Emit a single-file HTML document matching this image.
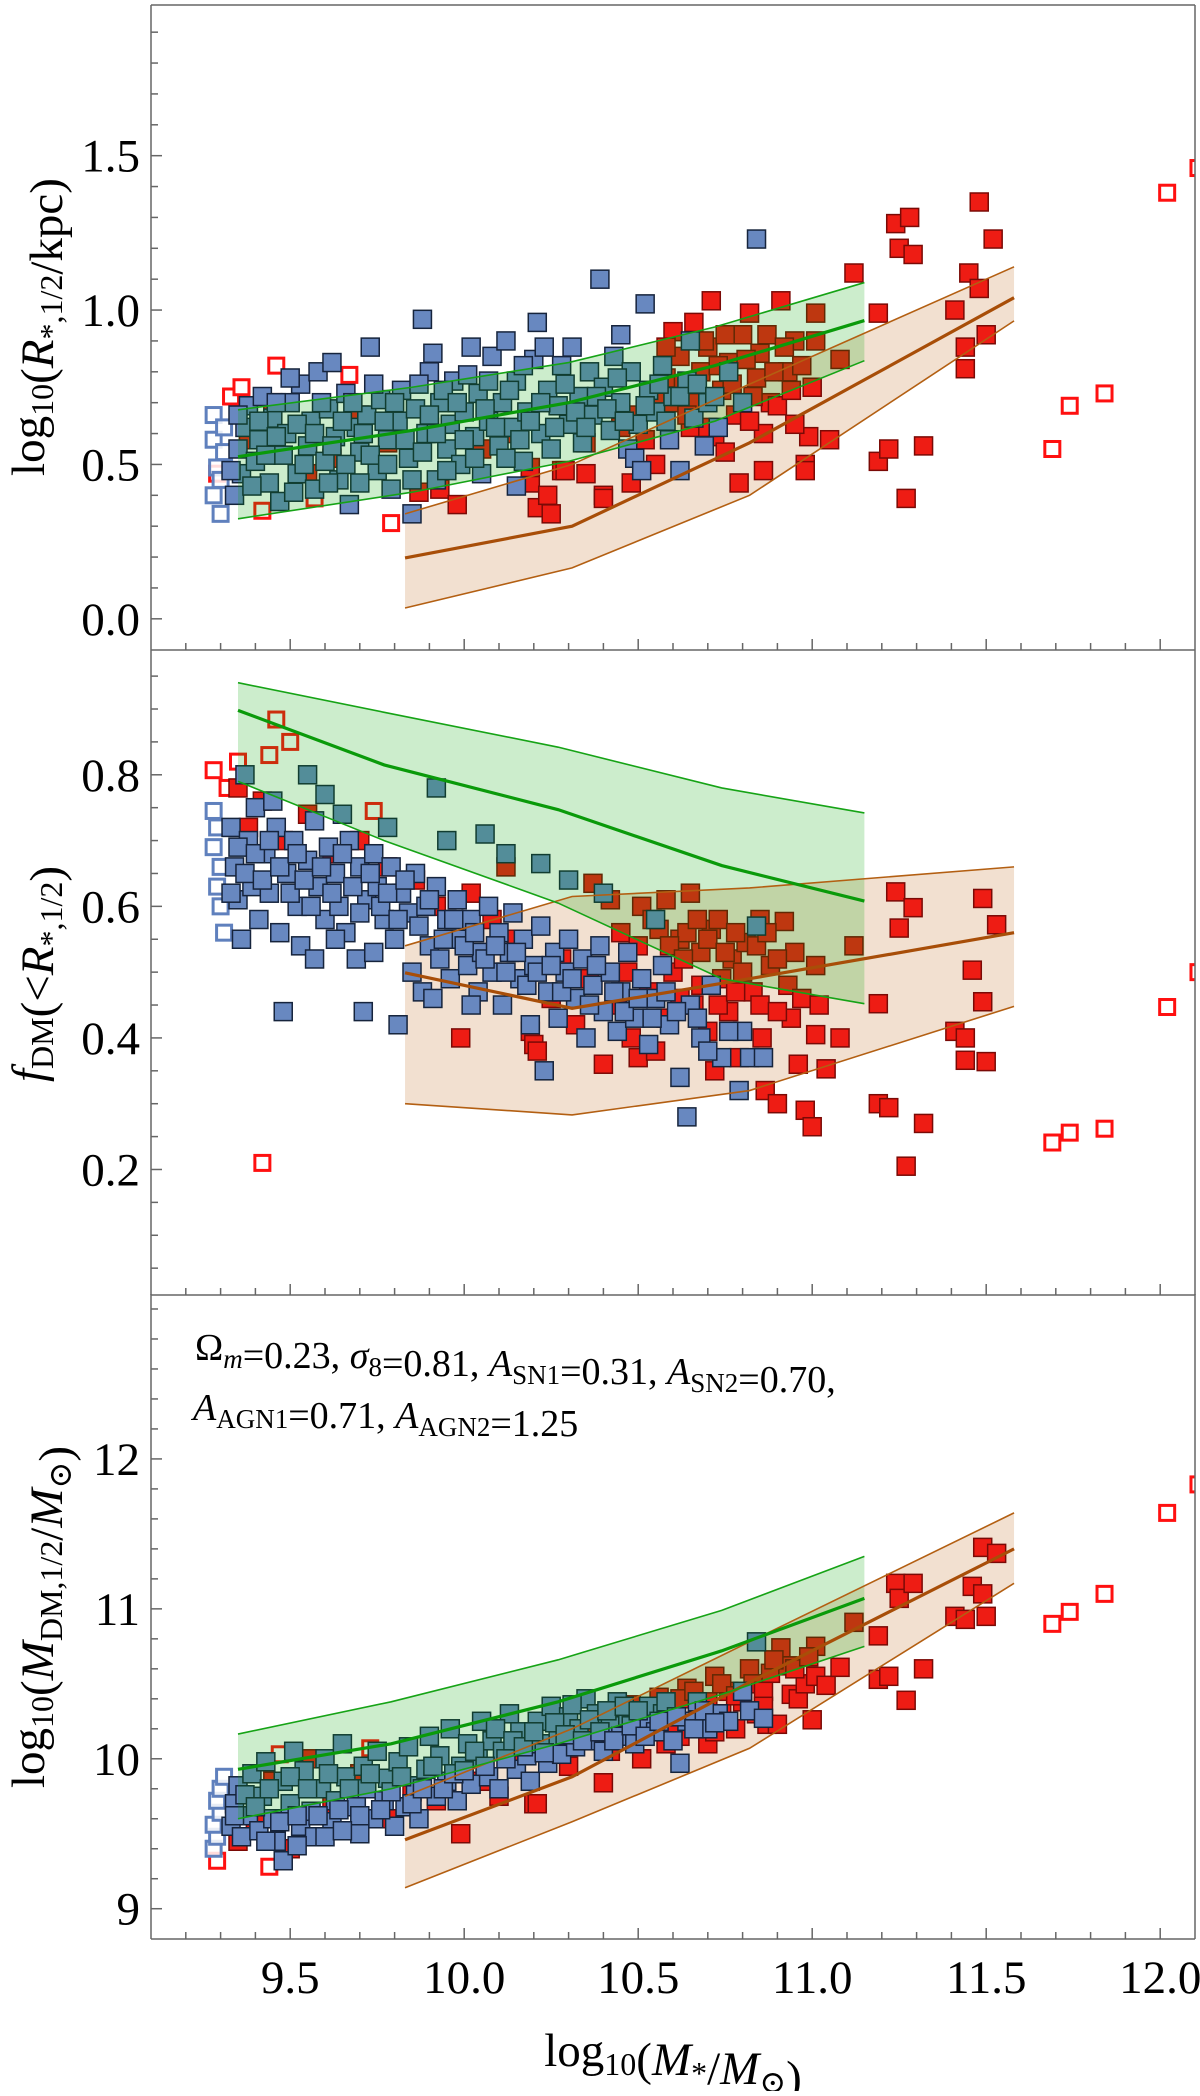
<!DOCTYPE html>
<html><head><meta charset="utf-8"><style>
html,body{margin:0;padding:0;background:#fff;}
svg, svg text{font-family:"Liberation Serif","Times New Roman",Times,"DejaVu Serif",serif;}
</style></head><body>
<svg id="fig" width="1200" height="2091" viewBox="0 0 1200 2091" xmlns="http://www.w3.org/2000/svg">
<defs>
<clipPath id="c0"><rect x="151" y="5" width="1044" height="645"/></clipPath>
<clipPath id="c1"><rect x="151" y="650" width="1044" height="645"/></clipPath>
<clipPath id="c2"><rect x="151" y="1294" width="1044" height="645"/></clipPath>
</defs>
<g id="layer"></g>
</svg>
<script>
// ---------- data ----------
const xTickLabels=["9.5","10.0","10.5","11.0","11.5","12.0"];
const xTickValues=[9.5,10.0,10.5,11.0,11.5,12.0];
const p1TickValues=[0,0.5,1.0,1.5];
const p1TickLabels=["0.0","0.5","1.0","1.5"];
const p2TickValues=[0.2,0.4,0.6,0.8];
const p2TickLabels=["0.2","0.4","0.6","0.8"];
const p3TickValues=[9,10,11,12];
const p3TickLabels=["9","10","11","12"];

const p1Blue=[[9.34,0.40],[9.36,0.47],[9.35,0.55],[9.37,0.62],[9.38,0.69],[9.40,0.51],[9.41,0.58],[9.42,0.72],[9.44,0.44],[9.45,0.65],[9.47,0.38],[9.48,0.53],[9.49,0.60],[9.50,0.70],[9.52,0.47],[9.53,0.76],[9.55,0.56],[9.56,0.64],[9.57,0.42],[9.58,0.80],[9.60,0.51],[9.61,0.68],[9.63,0.59],[9.64,0.45],[9.66,0.73],[9.67,0.37],[9.69,0.62],[9.70,0.54],[9.72,0.66],[9.73,0.88],[9.75,0.48],[9.76,0.71],[9.78,0.58],[9.79,0.42],[9.81,0.64],[9.82,0.74],[9.84,0.52],[9.85,0.34],[9.86,0.68],[9.88,0.97],[9.89,0.60],[9.90,0.80],[9.91,0.86],[9.92,0.45],[9.93,0.70],[9.95,0.55],[9.96,0.63],[9.97,0.77],[9.99,0.50],[10.00,0.67],[10.02,0.88],[10.03,0.59],[10.04,0.73],[10.05,0.47],[10.07,0.64],[10.08,0.85],[10.10,0.56],[10.11,0.70],[10.12,0.90],[10.14,0.62],[10.15,0.77],[10.17,0.51],[10.18,0.67],[10.20,0.84],[10.21,0.96],[10.22,0.60],[10.24,0.74],[10.25,0.55],[10.27,0.69],[10.28,0.82],[10.30,0.63],[10.31,0.88],[10.33,0.72],[10.34,0.57],[10.36,0.80],[10.37,0.66],[10.39,1.10],[10.40,0.75],[10.42,0.61],[10.43,0.85],[10.45,0.70],[10.47,0.55],[10.48,0.80],[10.50,0.63],[10.52,1.02],[10.53,0.74],[10.55,0.67],[10.57,0.82],[10.59,0.58],[10.60,0.72],[10.62,0.48],[10.64,0.77],[10.66,0.65],[10.69,0.56],[10.70,0.70],[10.73,0.62],[10.76,0.80],[10.80,0.70],[10.84,1.23],[10.65,0.90],[10.45,0.92],[10.15,0.43],[10.49,0.52],[10.51,0.48],[9.62,0.83],[9.50,0.78],
[9.33,0.48],[9.35,0.66],[9.39,0.43],[9.41,0.64],[9.43,0.53],[9.46,0.59],[9.46,0.70],[9.51,0.41],[9.52,0.63],[9.54,0.50],[9.57,0.60],[9.59,0.70],[9.61,0.44],[9.62,0.56],[9.65,0.64],[9.66,0.50],[9.68,0.70],[9.70,0.44],[9.71,0.60],[9.73,0.53],[9.74,0.76],[9.77,0.64],[9.78,0.50],[9.80,0.70],[9.83,0.58],[9.85,0.45],[9.87,0.76],[9.88,0.54],[9.90,0.66],[9.92,0.60],[9.94,0.74],[9.95,0.48],[9.98,0.70],[10.00,0.58],[10.01,0.79],[10.03,0.52],[10.06,0.68],[10.07,0.77],[10.09,0.62],[10.12,0.52],[10.13,0.74],[10.16,0.58],[10.17,0.82],[10.19,0.64],[10.22,0.70],[10.23,0.88],[10.26,0.62],[10.29,0.76],[10.32,0.67],[10.35,0.62],[10.38,0.72],[10.41,0.68],[10.44,0.78],[10.46,0.64],[10.52,0.69],[10.56,0.76],[10.58,0.64],[10.62,0.72],[10.67,0.76],[10.72,0.72]];
const p1Red=[[9.38,0.58],[9.45,0.70],[9.55,0.47],[9.62,0.52],[9.70,0.66],[9.78,0.57],[9.90,0.62],[9.87,0.41],[9.93,0.42],[9.98,0.37],[10.05,0.55],[10.12,0.60],[10.19,0.44],[10.19,0.49],[10.21,0.36],[10.24,0.40],[10.25,0.34],[10.28,0.48],[10.29,0.48],[10.35,0.57],[10.40,0.40],[10.40,0.39],[10.48,0.44],[10.45,0.62],[10.50,0.66],[10.55,0.72],[10.58,0.78],[10.60,0.93],[10.62,0.85],[10.66,0.96],[10.68,0.80],[10.70,0.88],[10.71,1.03],[10.72,0.59],[10.74,0.74],[10.76,0.83],[10.78,0.66],[10.79,0.44],[10.80,0.92],[10.82,0.99],[10.84,0.78],[10.85,0.86],[10.86,0.48],[10.86,0.60],[10.88,0.70],[10.90,0.69],[10.91,1.03],[10.93,0.80],[10.95,0.90],[10.98,0.50],[10.98,0.48],[10.99,0.59],[11.00,0.75],[11.01,0.99],[11.01,0.90],[11.05,0.58],[11.08,0.84],[11.12,1.12],[11.19,0.99],[11.19,0.51],[11.22,0.55],[11.24,1.28],[11.25,1.20],[11.27,0.39],[11.28,1.30],[11.29,1.18],[11.32,0.56],[11.41,1.00],[11.44,0.88],[11.44,0.81],[11.45,1.12],[11.48,1.35],[11.48,1.07],[11.50,0.92],[11.52,1.23],[10.55,0.50],[10.65,0.62],[10.35,0.47],[10.95,0.63],[10.60,0.70],
[10.63,0.76],[10.67,0.70],[10.69,0.90],[10.73,0.82],[10.75,0.92],[10.77,0.76],[10.81,0.84],[10.83,0.72],[10.87,0.92],[10.89,0.80],[10.92,0.88],[10.94,0.74],[10.97,0.82],[10.58,0.88],[10.64,0.66],[10.70,0.62],[10.75,0.54],[10.82,0.64],[10.52,0.58]];
const p1OpenRed=[[9.29,0.47],[9.33,0.72],[9.36,0.75],[9.42,0.35],[9.46,0.82],[9.57,0.39],[9.67,0.79],[9.79,0.31],[11.69,0.55],[11.74,0.69],[11.84,0.73],[12.02,1.38],[12.11,1.46]];
const p1OpenBlue=[[9.28,0.66],[9.28,0.58],[9.29,0.49],[9.28,0.40],[9.30,0.34],[9.31,0.62],[9.31,0.54],[9.30,0.45]];

const p2Blue=[[9.33,0.72],[9.34,0.66],[9.35,0.61],[9.36,0.55],[9.38,0.70],[9.39,0.63],[9.40,0.75],[9.41,0.58],[9.43,0.68],[9.44,0.62],[9.46,0.72],[9.47,0.56],[9.48,0.44],[9.49,0.65],[9.51,0.70],[9.52,0.60],[9.53,0.54],[9.55,0.67],[9.57,0.73],[9.58,0.63],[9.60,0.58],[9.61,0.69],[9.63,0.65],[9.64,0.60],[9.66,0.56],[9.67,0.70],[9.69,0.52],[9.70,0.66],[9.71,0.44],[9.72,0.61],[9.74,0.68],[9.75,0.63],[9.77,0.58],[9.79,0.66],[9.80,0.55],[9.81,0.42],[9.82,0.62],[9.84,0.59],[9.85,0.50],[9.86,0.65],[9.88,0.47],[9.89,0.60],[9.90,0.54],[9.92,0.63],[9.93,0.52],[9.95,0.58],[9.96,0.49],[9.98,0.61],[9.99,0.55],[10.01,0.51],[10.02,0.58],[10.04,0.47],[10.05,0.53],[10.07,0.60],[10.08,0.50],[10.10,0.56],[10.11,0.45],[10.13,0.53],[10.14,0.59],[10.16,0.49],[10.17,0.55],[10.19,0.42],[10.20,0.51],[10.22,0.57],[10.23,0.35],[10.24,0.47],[10.26,0.53],[10.27,0.43],[10.29,0.50],[10.30,0.55],[10.32,0.46],[10.34,0.52],[10.35,0.40],[10.37,0.48],[10.39,0.54],[10.40,0.44],[10.42,0.50],[10.44,0.41],[10.45,0.47],[10.47,0.53],[10.49,0.43],[10.51,0.49],[10.53,0.39],[10.55,0.46],[10.57,0.51],[10.59,0.42],[10.62,0.34],[10.64,0.28],[10.65,0.45],[10.68,0.40],[10.71,0.48],[10.74,0.37],[10.79,0.32],[10.80,0.41],[10.82,0.37],[10.84,0.57],[9.37,0.80],[9.55,0.80],[9.92,0.78],[10.06,0.71],[10.22,0.665],[10.30,0.64],[9.65,0.74],[9.78,0.72],[9.95,0.70],[10.12,0.68],[10.40,0.62],[10.55,0.58],[9.45,0.76],[9.60,0.77],
[9.33,0.62],[9.35,0.69],[9.37,0.65],[9.40,0.68],[9.42,0.64],[9.44,0.70],[9.47,0.66],[9.50,0.62],[9.52,0.68],[9.54,0.64],[9.56,0.60],[9.59,0.66],[9.62,0.62],[9.65,0.68],[9.68,0.63],[9.70,0.59],[9.73,0.65],[9.76,0.60],[9.78,0.62],[9.81,0.58],[9.83,0.64],[9.87,0.57],[9.90,0.61],[9.94,0.55],[9.97,0.58],[10.00,0.54],[10.03,0.56],[10.06,0.52],[10.09,0.54],[10.12,0.50],[10.15,0.53],[10.18,0.48],[10.21,0.50],[10.25,0.51],[10.28,0.47],[10.31,0.49],[10.36,0.45],[10.38,0.51],[10.43,0.47],[10.46,0.44],[10.50,0.46],[10.54,0.43],[10.58,0.47],[10.61,0.44],[10.67,0.43],[10.70,0.38],[10.76,0.41],[10.86,0.37],[9.74,0.53],[9.63,0.55],[9.57,0.52],[9.91,0.46],[10.02,0.45]];
const p2Red=[[9.35,0.78],[9.38,0.72],[9.42,0.76],[9.48,0.70],[9.55,0.74],[9.62,0.68],[9.70,0.70],[9.78,0.66],[9.86,0.64],[9.92,0.60],[9.99,0.40],[10.02,0.62],[10.08,0.58],[10.12,0.66],[10.15,0.55],[10.19,0.41],[10.20,0.39],[10.21,0.38],[10.25,0.46],[10.28,0.52],[10.32,0.42],[10.36,0.49],[10.37,0.635],[10.40,0.36],[10.42,0.61],[10.44,0.45],[10.48,0.40],[10.50,0.37],[10.51,0.60],[10.53,0.47],[10.56,0.565],[10.58,0.43],[10.60,0.50],[10.62,0.55],[10.64,0.56],[10.66,0.45],[10.68,0.53],[10.70,0.41],[10.71,0.565],[10.72,0.35],[10.74,0.49],[10.76,0.44],[10.77,0.52],[10.79,0.37],[10.81,0.545],[10.83,0.47],[10.856,0.40],[10.865,0.32],[10.88,0.51],[10.90,0.30],[10.92,0.577],[10.94,0.43],[10.95,0.53],[10.96,0.36],[10.98,0.29],[11.00,0.265],[11.01,0.405],[11.01,0.51],[11.04,0.353],[11.08,0.40],[11.12,0.54],[11.19,0.452],[11.19,0.30],[11.22,0.294],[11.24,0.622],[11.25,0.567],[11.27,0.205],[11.29,0.598],[11.32,0.27],[11.41,0.41],[11.44,0.40],[11.44,0.366],[11.46,0.503],[11.49,0.612],[11.49,0.455],[11.50,0.364],[11.53,0.572],[10.45,0.56],[10.55,0.38],[10.65,0.62],[10.85,0.58],[10.58,0.61],
[10.50,0.54],[10.54,0.58],[10.59,0.54],[10.63,0.52],[10.67,0.58],[10.70,0.55],[10.73,0.58],[10.75,0.53],[10.78,0.56],[10.80,0.50],[10.84,0.54],[10.87,0.56],[10.90,0.52],[10.62,0.46],[10.68,0.48],[10.73,0.45],[10.78,0.47],[10.85,0.45],[10.90,0.44],[10.93,0.48],[10.97,0.46],[11.02,0.45],[10.47,0.50]];
const p2OpenRed=[[9.28,0.807],[9.32,0.78],[9.35,0.82],[9.46,0.884],[9.50,0.85],[9.44,0.83],[9.74,0.745],[9.42,0.21],[11.69,0.241],[11.74,0.256],[11.84,0.262],[12.02,0.447],[12.11,0.50]];
const p2OpenBlue=[[9.28,0.745],[9.29,0.72],[9.28,0.69],[9.30,0.66],[9.29,0.63],[9.30,0.60],[9.31,0.56]];

const p3Blue=[[9.33,9.55],[9.34,9.70],[9.35,9.82],[9.36,9.48],[9.38,9.62],[9.39,9.90],[9.41,9.52],[9.42,9.75],[9.43,9.98],[9.45,9.60],[9.46,9.45],[9.48,9.32],[9.48,9.85],[9.50,9.70],[9.51,10.05],[9.53,9.55],[9.54,9.92],[9.56,9.65],[9.57,9.48],[9.59,9.80],[9.60,10.00],[9.62,9.58],[9.63,9.72],[9.65,10.10],[9.66,9.88],[9.68,9.52],[9.69,9.68],[9.71,9.95],[9.72,9.80],[9.74,9.60],[9.75,10.05],[9.77,9.72],[9.78,9.87],[9.80,9.55],[9.81,9.98],[9.83,9.68],[9.84,10.08],[9.86,9.82],[9.87,9.60],[9.89,9.93],[9.90,10.15],[9.92,9.75],[9.93,10.02],[9.95,9.85],[9.96,10.20],[9.98,9.72],[9.99,9.95],[10.01,10.10],[10.02,9.83],[10.04,10.00],[10.05,10.25],[10.07,9.88],[10.08,10.12],[10.10,9.80],[10.11,10.05],[10.13,10.30],[10.15,9.93],[10.16,10.18],[10.18,10.02],[10.19,9.85],[10.21,10.25],[10.22,10.10],[10.24,9.97],[10.25,10.35],[10.27,10.15],[10.28,10.03],[10.30,10.28],[10.32,10.08],[10.33,10.20],[10.35,10.40],[10.37,10.12],[10.38,10.30],[10.40,10.05],[10.42,10.22],[10.44,10.38],[10.45,10.15],[10.47,10.28],[10.49,10.10],[10.51,10.22],[10.53,10.35],[10.55,10.18],[10.57,10.30],[10.60,10.12],[10.62,9.97],[10.64,10.25],[10.67,10.38],[10.70,10.20],[10.73,10.30],[10.76,10.25],[10.80,10.45],[10.82,10.32],[10.84,10.78],[10.86,10.27],
[9.34,9.62],[9.37,9.76],[9.40,9.68],[9.44,9.80],[9.47,9.58],[9.50,9.88],[9.52,9.62],[9.55,9.80],[9.58,9.62],[9.61,9.90],[9.64,9.66],[9.67,9.80],[9.70,9.62],[9.73,9.90],[9.76,9.66],[9.79,9.78],[9.82,9.88],[9.85,9.70],[9.88,9.80],[9.91,9.95],[9.94,9.80],[9.97,9.90],[10.00,9.92],[10.03,10.05],[10.06,9.95],[10.09,10.20],[10.12,10.00],[10.14,10.12],[10.17,10.08],[10.20,10.18],[10.23,10.04],[10.26,10.24],[10.29,10.16],[10.31,10.36],[10.34,10.12],[10.36,10.26],[10.39,10.18],[10.41,10.32],[10.43,10.12],[10.46,10.35],[10.48,10.22],[10.50,10.32],[10.52,10.15],[10.56,10.25],[10.58,10.38],[10.61,10.28],[10.66,10.20],[10.69,10.32],[10.72,10.24],[9.52,9.42],[9.60,9.48],[9.70,9.50],[9.43,9.45],[9.65,9.52]];
const p3Red=[[9.35,9.45],[9.40,9.60],[9.45,9.85],[9.50,9.40],[9.55,10.00],[9.62,9.70],[9.70,9.90],[9.78,9.60],[9.85,9.78],[9.92,9.72],[9.99,9.50],[10.05,9.85],[10.10,9.75],[10.15,10.05],[10.20,9.70],[10.21,9.70],[10.25,10.10],[10.30,9.95],[10.35,10.15],[10.40,9.84],[10.42,10.05],[10.45,10.25],[10.48,10.36],[10.51,10.00],[10.53,10.20],[10.56,10.41],[10.58,10.10],[10.60,10.30],[10.62,10.15],[10.64,10.47],[10.66,10.25],[10.68,10.35],[10.70,10.10],[10.72,10.55],[10.74,10.30],[10.76,10.45],[10.78,10.20],[10.80,10.38],[10.82,10.60],[10.84,10.30],[10.87,10.23],[10.88,10.57],[10.90,10.23],[10.91,10.74],[10.93,10.62],[10.94,10.43],[10.96,10.40],[10.98,10.50],[11.00,10.26],[11.01,10.55],[11.01,10.75],[11.04,10.49],[11.08,10.61],[11.12,10.91],[11.19,10.82],[11.19,10.53],[11.22,10.55],[11.24,11.17],[11.25,11.07],[11.27,10.39],[11.29,11.17],[11.32,10.60],[11.41,10.95],[11.44,10.93],[11.46,11.15],[11.49,11.41],[11.49,11.10],[11.50,10.95],[11.53,11.37],
[10.55,10.33],[10.62,10.40],[10.66,10.45],[10.70,10.38],[10.74,10.50],[10.78,10.42],[10.83,10.50],[10.86,10.45],[10.89,10.66],[10.95,10.60],[10.99,10.68],[10.50,10.28],[10.60,10.22],[10.72,10.18],[10.86,10.35]];
const p3OpenRed=[[9.29,9.32],[9.44,9.28],[9.47,10.03],[9.73,10.07],[9.80,9.55],[11.69,10.90],[11.74,10.98],[11.84,11.10],[12.02,11.64],[12.11,11.83]];
const p3OpenBlue=[[9.28,9.40],[9.29,9.48],[9.28,9.56],[9.30,9.64],[9.29,9.72],[9.30,9.80],[9.31,9.88]];

// model bands
const p1GreenX=[9.35,9.85,10.3,10.72,11.15];
const p1GreenUp=[0.677,0.75,0.83,0.945,1.089];
const p1GreenMid=[0.525,0.61,0.70,0.82,0.966];
const p1GreenLo=[0.324,0.41,0.51,0.64,0.836];
const p1OrangeX=[9.83,10.31,10.82,11.58];
const p1OrangeUp=[0.34,0.50,0.76,1.14];
const p1OrangeMid=[0.197,0.30,0.57,1.04];
const p1OrangeLo=[0.035,0.165,0.40,0.965];

const p2GreenX=[9.35,9.77,10.27,10.74,11.15];
const p2GreenUp=[0.94,0.895,0.842,0.78,0.742];
const p2GreenMid=[0.898,0.815,0.747,0.662,0.608];
const p2GreenLo=[0.79,0.70,0.605,0.49,0.452];
const p2OrangeX=[9.83,10.31,10.82,11.58];
const p2OrangeUp=[0.54,0.615,0.628,0.66];
const p2OrangeMid=[0.499,0.445,0.49,0.56];
const p2OrangeLo=[0.30,0.283,0.32,0.448];

const p3GreenX=[9.35,9.79,10.27,10.74,11.15];
const p3GreenUp=[10.165,10.38,10.66,10.99,11.35];
const p3GreenMid=[9.93,10.10,10.38,10.72,11.07];
const p3GreenLo=[9.60,9.80,10.10,10.43,10.75];
const p3OrangeX=[9.83,10.31,10.82,11.58];
const p3OrangeUp=[9.75,10.2,10.78,11.64];
const p3OrangeMid=[9.46,9.88,10.51,11.40];
const p3OrangeLo=[9.14,9.58,10.07,11.17];

// ---------- drawing ----------
const NS="http://www.w3.org/2000/svg";
const FONT="'Liberation Serif','Times New Roman',Times,'DejaVu Serif',serif";
const root=document.getElementById('layer');
function mk(tag,attrs,parent){const e=document.createElementNS(NS,tag);for(const k in attrs)e.setAttribute(k,attrs[k]);(parent||root).appendChild(e);return e;}
const X0=151,X1=1195,XMIN=9.1,XMAX=12.1;
function sx(v){return X0+(v-XMIN)/(XMAX-XMIN)*(X1-X0);}
const panels=[
 {top:5,bot:650,ymin:-0.101,ymax:1.988,clip:'c0',name:'size-panel',minStep:0.1,minFrom:-0.1,minTo:1.95,tv:p1TickValues,tl:p1TickLabels,
  blue:p1Blue,red:p1Red,openRed:p1OpenRed,openBlue:p1OpenBlue,
  g:[p1GreenX,p1GreenUp,p1GreenMid,p1GreenLo],o:[p1OrangeX,p1OrangeUp,p1OrangeMid,p1OrangeLo]},
 {top:650,bot:1295,ymin:0.0092,ymax:0.9897,clip:'c1',name:'dm-fraction-panel',minStep:0.05,minFrom:0.05,minTo:0.96,tv:p2TickValues,tl:p2TickLabels,
  blue:p2Blue,red:p2Red,openRed:p2OpenRed,openBlue:p2OpenBlue,
  g:[p2GreenX,p2GreenUp,p2GreenMid,p2GreenLo],o:[p2OrangeX,p2OrangeUp,p2OrangeMid,p2OrangeLo]},
 {top:1294,bot:1939,ymin:8.798,ymax:13.10,clip:'c2',name:'dm-mass-panel',minStep:0.2,minFrom:8.8,minTo:13.05,tv:p3TickValues,tl:p3TickLabels,
  blue:p3Blue,red:p3Red,openRed:p3OpenRed,openBlue:p3OpenBlue,
  g:[p3GreenX,p3GreenUp,p3GreenMid,p3GreenLo],o:[p3OrangeX,p3OrangeUp,p3OrangeMid,p3OrangeLo]}
];
const S=18;
panels.forEach((P,pi)=>{
  const sy=v=>P.bot-(v-P.ymin)/(P.ymax-P.ymin)*(P.bot-P.top);
  const g=mk('g',{'clip-path':'url(#'+P.clip+')'});
  
  
  function bandFill(B,fill,nm){const [xs,up,mid,lo]=B;
    let pts=xs.map((x,i)=>sx(x)+','+sy(up[i]));
    for(let i=xs.length-1;i>=0;i--)pts.push(sx(xs[i])+','+sy(lo[i]));
    const band=mk('polygon',{points:pts.join(' '),fill:fill,stroke:'none'},g);
    
    }
  function bandLines(B,col,mcol,nm){const [xs,up,mid,lo]=B;
    [up,lo].forEach(arr=>{const l=mk('polyline',{points:xs.map((x,i)=>sx(x)+','+sy(arr[i])).join(' '),fill:'none',stroke:col,'stroke-width':1.6},g);
      
      });
    const m=mk('polyline',{points:xs.map((x,i)=>sx(x)+','+sy(mid[i])).join(' '),fill:'none',stroke:mcol,'stroke-width':3.2},g);
    
    }
  bandFill(P.o,'rgba(190,100,20,0.2)','orange');
  P.openRed.forEach(d=>{const r=mk('rect',{x:sx(d[0])-7.5,y:sy(d[1])-7.5,width:15,height:15,fill:'#fff',stroke:'#ff1010','stroke-width':3},g);
    
    });
  P.red.forEach(d=>{const r=mk('rect',{x:sx(d[0])-S/2,y:sy(d[1])-S/2,width:S,height:S,fill:'#ee1c14',stroke:'#7a0a06','stroke-width':1.5},g);
    
    });
  P.openBlue.forEach(d=>{const r=mk('rect',{x:sx(d[0])-7.5,y:sy(d[1])-7.5,width:15,height:15,fill:'#fff','fill-opacity':0.85,stroke:'#5f80bd','stroke-width':3},g);
    
    });
  P.blue.forEach(d=>{const r=mk('rect',{x:sx(d[0])-S/2,y:sy(d[1])-S/2,width:S,height:S,fill:'#6888c0',stroke:'#16243c','stroke-width':1.5},g);
    
    });
  bandFill(P.g,'rgba(0,165,0,0.2)','green');
  bandLines(P.o,'#b35f12','#a84e08','orange');
  bandLines(P.g,'#16a316','#0a9a0a','green');
  const ax=mk('g',{stroke:'#666','stroke-width':1.5});
  
  
  mk('line',{x1:X0,y1:P.top,x2:X0,y2:P.bot},ax);
  mk('line',{x1:X0,y1:P.bot,x2:X1,y2:P.bot},ax);
  mk('line',{x1:X1,y1:P.top,x2:X1,y2:P.bot},ax);
  if(pi===0)mk('line',{x1:X0,y1:P.top,x2:X1,y2:P.top},ax);
  for(let v=P.minFrom;v<=P.minTo+1e-9;v+=P.minStep){const y=sy(v);if(y<P.top+2||y>P.bot-2)continue;
    const major=P.tv.some(t=>Math.abs(t-v)<1e-6);mk('line',{x1:X0,y1:y,x2:X0+(major?11:7),y2:y},ax);}
  for(let k=1;k<30;k++){const v=9.1+k*0.1;const x=sx(v);const major=xTickValues.some(t=>Math.abs(t-v)<1e-6);
    mk('line',{x1:x,y1:P.bot,x2:x,y2:P.bot-(major?11:7)},ax);}
  P.tv.forEach((v,i)=>{const t=mk('text',{x:140,y:sy(v)+16,'text-anchor':'end','font-size':47,'font-family':FONT,fill:'#000'});t.textContent=P.tl[i];
    
    });
});
xTickValues.forEach((v,i)=>{const t=mk('text',{x:sx(v),y:1993,'text-anchor':'middle','font-size':47,'font-family':FONT,fill:'#000'});t.textContent=xTickLabels[i];
  
  });

function txt(html,attrs,name){const t=document.createElementNS(NS,'text');for(const k in attrs)t.setAttribute(k,attrs[k]);t.setAttribute('font-family',FONT);t.innerHTML=html;
  
  
  document.getElementById('fig').appendChild(t);}
const sub=(s,fs)=>'<tspan dy="9" font-size="'+fs+'">'+s+'</tspan><tspan dy="-9"></tspan>';
txt('log'+sub('10',32)+'(<tspan font-style="italic">R</tspan>'+sub('*,1/2',32)+'/kpc)',{transform:'translate(44,327) rotate(-90)','text-anchor':'middle','font-size':47},'y-axis-title-size');
txt('<tspan font-style="italic">f</tspan>'+sub('DM',32)+'(&lt;<tspan font-style="italic">R</tspan>'+sub('*,1/2',32)+')',{transform:'translate(44,974) rotate(-90)','text-anchor':'middle','font-size':47},'y-axis-title-dm-fraction');
txt('log'+sub('10',32)+'(<tspan font-style="italic">M</tspan>'+sub('DM,1/2',32)+'/<tspan font-style="italic">M</tspan>'+sub('⊙',32)+')',{transform:'translate(44,1617) rotate(-90)','text-anchor':'middle','font-size':47},'y-axis-title-dm-mass');
txt('log'+sub('10',32)+'(<tspan font-style="italic">M</tspan>'+sub('*',32)+'/<tspan font-style="italic">M</tspan>'+sub('⊙',32)+')',{x:673,y:2066,'text-anchor':'middle','font-size':47},'x-axis-title');
const s2=s=>'<tspan dy="8" font-size="27">'+s+'</tspan><tspan dy="-8"></tspan>';
txt('Ω'+s2('<tspan font-style="italic">m</tspan>')+'=0.23, <tspan font-style="italic">σ</tspan>'+s2('8')+'=0.81, <tspan font-style="italic">A</tspan>'+s2('SN1')+'=0.31, <tspan font-style="italic">A</tspan>'+s2('SN2')+'=0.70,',{x:195,y:1360,'font-size':38},'parameter-annotation-line1');
txt('<tspan font-style="italic">A</tspan>'+s2('AGN1')+'=0.71, <tspan font-style="italic">A</tspan>'+s2('AGN2')+'=1.25',{x:193,y:1420,'font-size':38},'parameter-annotation-line2');
</script>
</body></html>
